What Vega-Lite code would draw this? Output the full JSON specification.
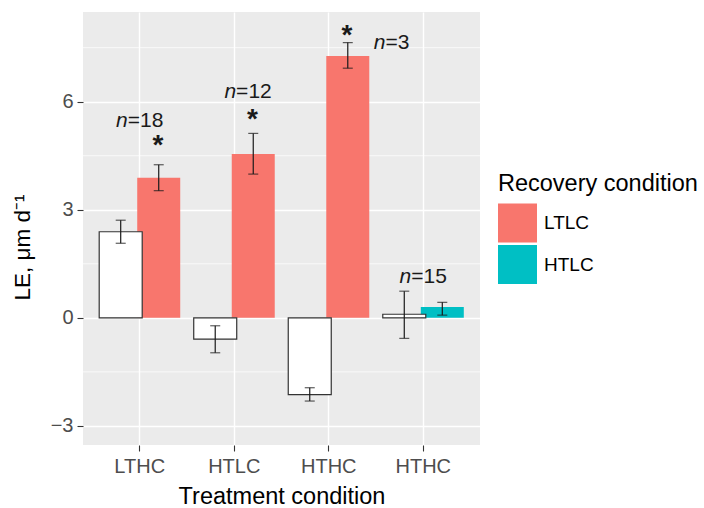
{
  "$schema": "https://vega.github.io/schema/vega-lite/v6.json",
  "width": 397,
  "height": 433,
  "autosize": {"type": "none"},
  "padding": {"left": 83, "top": 12, "right": 224, "bottom": 63},
  "datasets": {
    "bars": [
      {"group": "LTHC", "series": "treat", "recovery": null, "mean": 2.39, "lo": 2.07, "hi": 2.71},
      {"group": "LTHC", "series": "recov", "recovery": "LTLC", "mean": 3.89, "lo": 3.53, "hi": 4.25},
      {"group": "HTLC", "series": "treat", "recovery": null, "mean": -0.59, "lo": -0.97, "hi": -0.22},
      {"group": "HTLC", "series": "recov", "recovery": "LTLC", "mean": 4.55, "lo": 3.99, "hi": 5.12},
      {"group": "HTHC", "series": "treat", "recovery": null, "mean": -2.13, "lo": -2.31, "hi": -1.94},
      {"group": "HTHC", "series": "recov", "recovery": "LTLC", "mean": 7.27, "lo": 6.93, "hi": 7.64},
      {"group": "HTHC_2", "series": "treat", "recovery": null, "mean": 0.1, "lo": -0.57, "hi": 0.74},
      {"group": "HTHC_2", "series": "recov", "recovery": "HTLC", "mean": 0.3, "lo": 0.075, "hi": 0.43}
    ],
    "stars": [
      {"group": "LTHC", "series": "recov", "y": 4.94},
      {"group": "HTLC", "series": "recov", "y": 5.66},
      {"group": "HTHC", "series": "recov", "y": 7.99}
    ],
    "nlabels": [
      {"group": "LTHC", "n": 18, "xpos": -0.127, "y": 5.30},
      {"group": "HTLC", "n": 12, "xpos": 0.02, "y": 6.10},
      {"group": "HTHC", "n": 3, "xpos": 0.60, "y": 7.46},
      {"group": "HTHC_2", "n": 15, "xpos": -0.127, "y": 0.96}
    ],
    "minor": [{"y": -1.5}, {"y": 1.5}, {"y": 4.5}, {"y": 7.5}]
  },
  "encoding": {
    "x": {
      "field": "group", "type": "nominal",
      "scale": {"domain": ["LTHC", "HTLC", "HTHC", "HTHC_2"], "paddingInner": 0, "paddingOuter": 0.1},
      "axis": {"title": "Treatment condition", "labelExpr": "split(datum.label, '_')[0]", "labelAngle": 0, "grid": true, "bandPosition": 0.5, "labelPadding": 5, "titlePadding": 8}
    }
  },
  "layer": [
    {
      "data": {"name": "minor"},
      "mark": {"type": "rule", "color": "#FFFFFF", "strokeWidth": 0.7},
      "encoding": {"x": null, "y": {"field": "y", "type": "quantitative"}}
    },
    {
      "data": {"name": "bars"},
      "transform": [{"filter": "datum.series == 'recov'"}],
      "mark": {"type": "bar", "width": 43},
      "encoding": {
        "xOffset": {"field": "series", "type": "nominal", "scale": {"domain": ["treat", "recov"], "paddingInner": 0, "paddingOuter": 0.243}},
        "y": {"field": "mean", "type": "quantitative", "stack": null,
          "scale": {"domain": [-3.53, 8.49], "nice": false, "zero": false},
          "axis": {"title": "LE, μm d⁻¹", "values": [-3, 0, 3, 6], "grid": true, "labelPadding": 4, "titlePadding": 16, "titleY": 235, "titleFontSize": 22.5}},
        "color": {"field": "recovery", "type": "nominal",
          "scale": {"domain": ["LTLC", "HTLC"], "range": ["#F8766D", "#00BFC4"]},
          "legend": {"title": "Recovery condition"}}
      }
    },
    {
      "data": {"name": "bars"},
      "transform": [{"filter": "datum.series == 'treat'"}],
      "mark": {"type": "bar", "width": 43, "fill": "#FFFFFF", "stroke": "#333333", "strokeWidth": 1.2},
      "encoding": {
        "xOffset": {"field": "series", "type": "nominal", "scale": {"domain": ["treat", "recov"], "paddingInner": 0, "paddingOuter": 0.243}},
        "y": {"field": "mean", "type": "quantitative", "stack": null}
      }
    },
    {
      "data": {"name": "bars"},
      "mark": {"type": "rule", "color": "#1A1A1A", "strokeWidth": 1.2},
      "encoding": {
        "xOffset": {"field": "series", "type": "nominal", "scale": {"domain": ["treat", "recov"], "paddingInner": 0, "paddingOuter": 0.243}},
        "y": {"field": "lo", "type": "quantitative"},
        "y2": {"field": "hi"}
      }
    },
    {
      "data": {"name": "bars"},
      "mark": {"type": "tick", "color": "#1A1A1A", "size": 10, "thickness": 1.2},
      "encoding": {
        "xOffset": {"field": "series", "type": "nominal", "scale": {"domain": ["treat", "recov"], "paddingInner": 0, "paddingOuter": 0.243}},
        "y": {"field": "lo", "type": "quantitative"}
      }
    },
    {
      "data": {"name": "bars"},
      "mark": {"type": "tick", "color": "#1A1A1A", "size": 10, "thickness": 1.2},
      "encoding": {
        "xOffset": {"field": "series", "type": "nominal", "scale": {"domain": ["treat", "recov"], "paddingInner": 0, "paddingOuter": 0.243}},
        "y": {"field": "hi", "type": "quantitative"}
      }
    },
    {
      "data": {"name": "stars"},
      "mark": {"type": "text", "fontSize": 28, "fontWeight": "bold", "baseline": "middle", "align": "center", "color": "#1A1A1A", "dy": 6, "dx": -13.5},
      "encoding": {
        "xOffset": {"field": "series", "type": "nominal", "scale": {"domain": ["treat", "recov"], "paddingInner": 0, "paddingOuter": 0.243}},
        "y": {"field": "y", "type": "quantitative"},
        "text": {"value": "*"}
      }
    },
    {
      "data": {"name": "nlabels"},
      "mark": {"type": "text", "fontSize": 21, "fontStyle": "italic", "baseline": "alphabetic", "align": "right", "color": "#1A1A1A"},
      "encoding": {
        "xOffset": {"field": "xpos", "type": "quantitative", "scale": {"domain": [-0.5, 0.5], "range": [0, 94.5], "zero": false, "nice": false}},
        "y": {"field": "y", "type": "quantitative"},
        "text": {"value": "n"}
      }
    },
    {
      "data": {"name": "nlabels"},
      "transform": [{"calculate": "'=' + datum.n", "as": "eqn"}],
      "mark": {"type": "text", "fontSize": 21, "baseline": "alphabetic", "align": "left", "color": "#1A1A1A"},
      "encoding": {
        "xOffset": {"field": "xpos", "type": "quantitative", "scale": {"domain": [-0.5, 0.5], "range": [0, 94.5], "zero": false, "nice": false}},
        "y": {"field": "y", "type": "quantitative"},
        "text": {"field": "eqn", "type": "nominal"}
      }
    }
  ],
  "resolve": {"scale": {"xOffset": "independent"}},
  "config": {
    "font": "Liberation Sans",
    "view": {"fill": "#EBEBEB", "stroke": null},
    "axis": {
      "domain": false,
      "gridColor": "#FFFFFF", "gridWidth": 1.4,
      "tickColor": "#333333", "tickSize": 6, "tickWidth": 1.1,
      "labelColor": "#4D4D4D", "labelFontSize": 20,
      "titleFontSize": 23.5, "titleColor": "#000000", "titleFontWeight": "normal"
    },
    "legend": {
      "orient": "none", "legendX": 415, "legendY": 160,
      "symbolType": "square", "symbolSize": 1521, "symbolStrokeWidth": 0, "symbolOpacity": 1,
      "labelFontSize": 19, "labelColor": "#000000", "labelOffset": 7,
      "titleFontSize": 23.5, "titleFontWeight": "normal", "titleColor": "#000000", "titleLimit": 300,
      "titlePadding": 8, "rowPadding": 2.5
    }
  }
}
